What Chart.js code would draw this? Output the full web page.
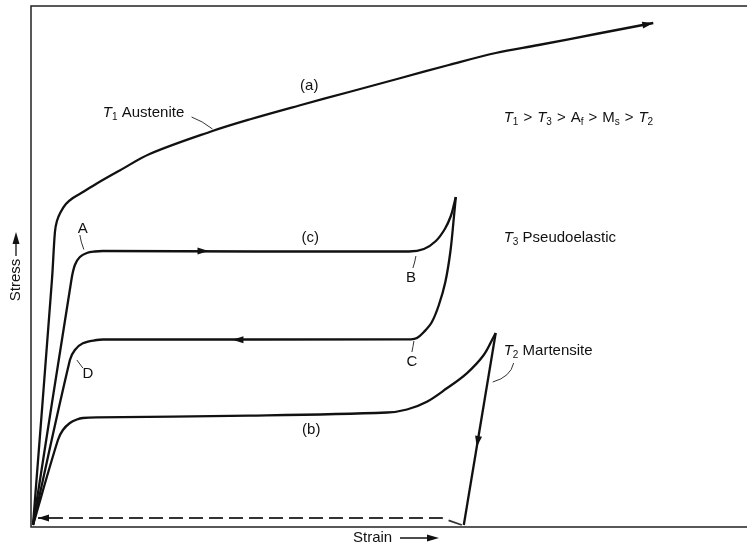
<!DOCTYPE html>
<html>
<head>
<meta charset="utf-8">
<script src="https://cdn.jsdelivr.net/npm/chart.js@4.4.1/dist/chart.umd.min.js"></script>
<style>
  body { margin: 0; background: #fff; }
  #wrap { width: 747px; height: 548px; position: relative; }
</style>
</head>
<body>
<div id="wrap"><canvas id="sma"></canvas></div>
<script>
// strain / stress values (arbitrary units)
const austeniteStrain = [0, 1.9, 2.2, 2.4, 2.75, 3.3, 4.0, 5.1, 6.4, 8.7, 11.7, 18.0, 21.7, 26.7, 31.7, 36.7, 41.7, 46.4, 50.7, 56.7, 62.2];
const austeniteStress = [0, 24.5, 29.3, 30.4, 31.25, 32.1, 32.7, 33.35, 34.15, 35.45, 37.1, 39.4, 40.55, 41.95, 43.3, 44.65, 46.0, 47.2, 48.0, 49.15, 50.2];

const pseudoLoadStrain = [0, 3.85, 4.2, 4.7, 5.4, 6.2, 7.0, 37.7, 39.2, 40.4, 41.3, 41.9, 42.25, 42.4];
const pseudoLoadStress = [0, 24.5, 26.0, 26.8, 27.2, 27.35, 27.4, 27.35, 27.6, 28.4, 29.6, 30.9, 32.2, 32.8];

const pseudoUnloadStrain = [42.4, 42.2, 41.85, 41.35, 40.7, 40.0, 39.2, 38.5, 37.9, 7.0, 6.4, 5.0, 4.2, 3.7, 0];
const pseudoUnloadStress = [32.8, 30.7, 27.3, 24.3, 22.0, 20.3, 19.3, 18.7, 18.57, 18.55, 18.5, 18.17, 17.5, 16.5, 0];

const martLoadStrain = [0, 2.5, 3.0, 3.7, 4.4, 5.0, 6.4, 21.7, 35.5, 37.5, 39.5, 41.5, 43.5, 45.2, 46.2, 46.4];
const martLoadStress = [0, 8.5, 9.5, 10.2, 10.55, 10.7, 10.77, 10.93, 11.25, 11.55, 12.33, 13.67, 15.17, 17.0, 18.83, 19.2];

const martUnloadStrain = [46.4, 43.2];
const martUnloadStress = [19.2, 0];

const recoveryStrain = [43.0, 41.0, 0.5];
const recoveryStress = [0, 0.7, 0.7];

function pts(xs, ys) {
  return xs.map((x, i) => ({ x: x, y: ys[i] }));
}

const ink = '#111';

function curve(xs, ys, extra) {
  return Object.assign({
    data: pts(xs, ys),
    showLine: true,
    borderColor: ink,
    borderWidth: 2.3,
    pointRadius: 0,
    tension: 0.35,
    fill: false
  }, extra || {});
}

// arrowheads: tip + a point behind it (data units)
const arrows = [
  [62.2, 50.2, 58.0, 49.4],
  [17.6, 27.4, 15.0, 27.4],
  [20.0, 18.52, 23.0, 18.52],
  [44.5, 7.8, 46.4, 19.2],
  [0.5, 0.7, 3.0, 0.7]
];

// text labels: parts [text, style] with style '' | 'i' (italic) | 's' (subscript) | 'g' (gap)
const SEP = [['', 'g'], ['>', ''], ['', 'g']];
const labels = [
  { x: 27.7, y: 43.9, align: 'center', parts: [['(a)', '']] },
  { x: 7.0, y: 41.2, align: 'left', parts: [['T', 'i'], ['1', 's'], [' Austenite', '']] },
  { x: 47.2, y: 40.7, align: 'left', parts: [['T', 'i'], ['1', 's']].concat(SEP, [['T', 'i'], ['3', 's']], SEP, [['A', ''], ['f', 's']], SEP, [['M', ''], ['s', 's']], SEP, [['T', 'i'], ['2', 's']]) },
  { x: 27.8, y: 28.7, align: 'center', parts: [['(c)', '']] },
  { x: 47.2, y: 28.7, align: 'left', parts: [['T', 'i'], ['3', 's'], [' Pseudoelastic', '']] },
  { x: 5.0, y: 29.6, align: 'center', parts: [['A', '']] },
  { x: 37.9, y: 24.7, align: 'center', parts: [['B', '']] },
  { x: 38.0, y: 16.3, align: 'center', parts: [['C', '']] },
  { x: 5.5, y: 15.1, align: 'center', parts: [['D', '']] },
  { x: 27.9, y: 9.5, align: 'center', parts: [['(b)', '']] },
  { x: 47.2, y: 17.4, align: 'left', parts: [['T', 'i'], ['2', 's'], [' Martensite', '']] }
];

// leader lines: start, control, end (data units)
const leaders = [
  [15.9, 40.8, 17.0, 40.4, 18.0, 39.6],
  [4.7, 29.0, 4.8, 28.3, 5.1, 27.55],
  [38.4, 26.9, 38.3, 26.3, 38.1, 25.7],
  [38.2, 18.4, 38.1, 17.8, 38.0, 17.3],
  [4.4, 16.5, 4.7, 16.1, 5.0, 15.7],
  [48.2, 16.2, 47.9, 14.8, 46.1, 14.3]
];

const FONT = '"Liberation Sans", Arial, sans-serif';

function partFont(style) {
  if (style === 'i') return 'italic 15px ' + FONT;
  if (style === 's') return '10px ' + FONT;
  return '15px ' + FONT;
}

function partWidth(ctx, p) {
  if (p[1] === 'g') return 5;
  ctx.font = partFont(p[1]);
  return ctx.measureText(p[0]).width;
}

function drawRich(ctx, parts, x, y, align) {
  let w = 0;
  parts.forEach(p => { w += partWidth(ctx, p); });
  let cx = align === 'center' ? x - w / 2 : x;
  ctx.textBaseline = 'middle';
  ctx.textAlign = 'left';
  parts.forEach(p => {
    const pw = partWidth(ctx, p);
    if (p[1] !== 'g') {
      ctx.font = partFont(p[1]);
      ctx.fillText(p[0], cx, p[1] === 's' ? y + 4 : y);
    }
    cx += pw;
  });
}

function arrowHead(ctx, tx, ty, fx, fy, len, half) {
  const a = Math.atan2(ty - fy, tx - fx);
  ctx.beginPath();
  ctx.moveTo(tx, ty);
  ctx.lineTo(tx - len * Math.cos(a) + half * Math.sin(a), ty - len * Math.sin(a) - half * Math.cos(a));
  ctx.lineTo(tx - len * Math.cos(a) - half * Math.sin(a), ty - len * Math.sin(a) + half * Math.cos(a));
  ctx.closePath();
  ctx.fill();
}

const decorations = {
  id: 'decorations',
  beforeDatasetsDraw(chart) {
    const ctx = chart.ctx, a = chart.chartArea;
    ctx.save();
    ctx.strokeStyle = '#222';
    ctx.lineWidth = 1.5;
    ctx.beginPath();
    ctx.moveTo(a.right + 2, a.top);
    ctx.lineTo(a.left, a.top);
    ctx.lineTo(a.left, a.bottom);
    ctx.lineTo(a.right + 2, a.bottom);
    ctx.stroke();
    ctx.restore();
  },
  afterDatasetsDraw(chart) {
    const ctx = chart.ctx, a = chart.chartArea;
    const xs = chart.scales.x, ys = chart.scales.y;
    const px = v => xs.getPixelForValue(v), py = v => ys.getPixelForValue(v);
    ctx.save();
    ctx.fillStyle = ink;
    arrows.forEach(r => arrowHead(ctx, px(r[0]), py(r[1]), px(r[2]), py(r[3]), 11, 3.5));

    ctx.strokeStyle = '#333';
    ctx.lineWidth = 1;
    leaders.forEach(l => {
      ctx.beginPath();
      ctx.moveTo(px(l[0]), py(l[1]));
      ctx.quadraticCurveTo(px(l[2]), py(l[3]), px(l[4]), py(l[5]));
      ctx.stroke();
    });

    labels.forEach(t => drawRich(ctx, t.parts, px(t.x), py(t.y), t.align));

    // axis titles
    ctx.font = '15px ' + FONT;
    ctx.textBaseline = 'middle';
    ctx.textAlign = 'left';
    const sx = a.left + 322, sy = a.bottom + 11;
    ctx.fillText('Strain', sx, sy);
    ctx.lineWidth = 1.3;
    ctx.strokeStyle = ink;
    ctx.beginPath(); ctx.moveTo(sx + 47, sy); ctx.lineTo(sx + 80, sy); ctx.stroke();
    arrowHead(ctx, sx + 86, sy, sx + 47, sy, 12, 3.5);

    ctx.save();
    ctx.translate(a.left - 15, 280);
    ctx.rotate(-Math.PI / 2);
    ctx.textAlign = 'center';
    ctx.fillText('Stress', 0, 0);
    ctx.beginPath(); ctx.moveTo(24, 0); ctx.lineTo(42, 0); ctx.stroke();
    arrowHead(ctx, 48, 0, 24, 0, 12, 3.5);
    ctx.restore();
    ctx.restore();
  }
};

new Chart('sma', {
  type: 'scatter',
  data: {
    datasets: [
      curve(austeniteStrain, austeniteStress),
      curve(pseudoLoadStrain, pseudoLoadStress),
      curve(pseudoUnloadStrain, pseudoUnloadStress),
      curve(martLoadStrain, martLoadStress),
      curve(martUnloadStrain, martUnloadStress, { tension: 0 }),
      curve(recoveryStrain, recoveryStress, { tension: 0, borderWidth: 1.8, borderDash: [14, 6], borderColor: '#333' })
    ]
  },
  options: {
    responsive: true,
    maintainAspectRatio: false,
    animation: false,
    layout: { padding: { left: 31, top: 6, right: 0, bottom: 21 } },
    plugins: { legend: { display: false }, tooltip: { enabled: false } },
    scales: {
      x: { type: 'linear', min: -0.2, max: 71.6, display: false },
      y: { type: 'linear', min: -0.2, max: 51.9, display: false }
    }
  },
  plugins: [decorations]
});
</script>
</body>
</html>
